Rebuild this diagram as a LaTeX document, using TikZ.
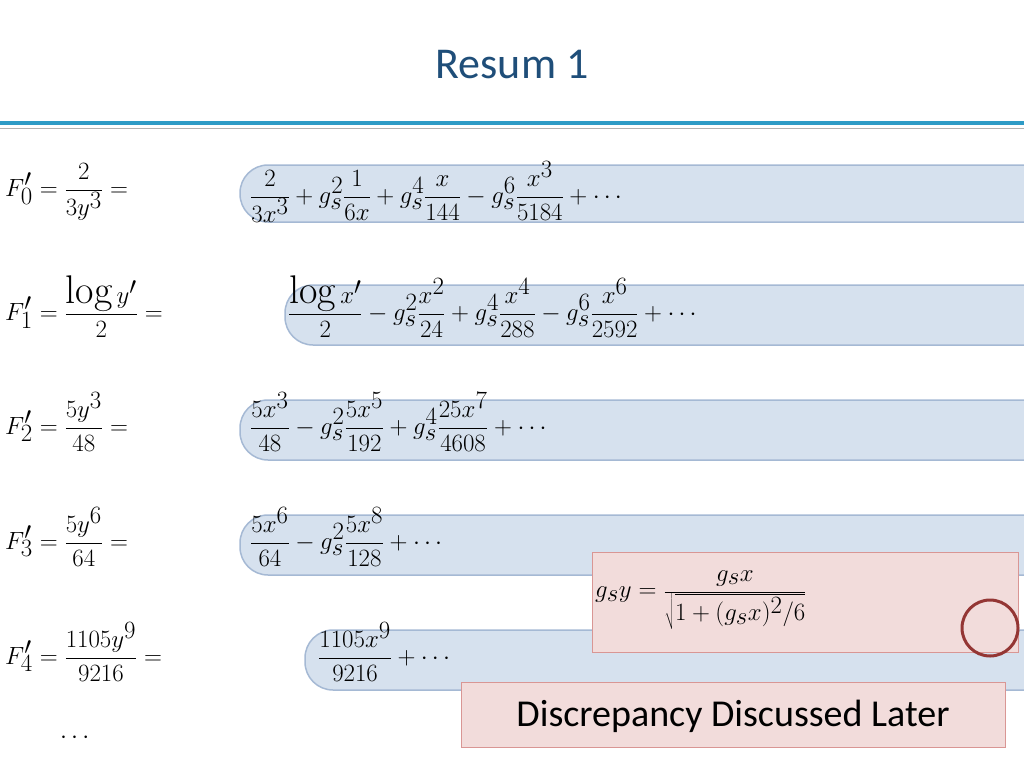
\documentclass[tikz,border=0pt]{standalone}
\usepackage{fontspec}
\newfontfamily\carlitofont{Carlito}
\begin{document}
\begin{tikzpicture}[x=1pt,y=-1pt,
  bar/.style={fill={rgb,255:red,214;green,225;blue,238}, draw={rgb,255:red,165;green,185;blue,212}, line width=1.5pt, rounded corners=28pt},
  pinkbox/.style={fill={rgb,255:red,242;green,220;blue,219}, draw={rgb,255:red,217;green,150;blue,148}, line width=1pt},
  eq/.style={font=\fontsize{40}{48}\selectfont, inner sep=0pt, anchor=west}]
\useasboundingbox (0,0) rectangle (1024,768);
\clip (0,0) rectangle (1024,768);
\node[font=\carlitofont\fontsize{44}{50}\selectfont, text={rgb,255:red,31;green,78;blue,121}] (title) at (512,65) {Resum 1};
\draw[line width=4pt, draw={rgb,255:red,46;green,155;blue,198}] (0,123) -- (1024,123);
\draw[line width=1pt, gray!60] (0,128) -- (1024,128);
% bars
\draw[bar] (240,165) rectangle (1100,222);
\draw[bar] (285,285) rectangle (1100,345);
\draw[bar] (240,400) rectangle (1100,460);
\draw[bar] (240,515) rectangle (1100,575);
\draw[bar] (305,630) rectangle (1100,690);
% rows
\node[eq] (l0) at (5,192) {$\displaystyle F_0'=\frac{2}{3y^3}=$};
\node[eq] (r0) at (250,192) {$\displaystyle \frac{2}{3x^3}+g_s^2\frac{1}{6x}+g_s^4\frac{x}{144}-g_s^6\frac{x^3}{5184}+\cdots$};
\node[eq] (l1) at (5,307) {$\displaystyle F_1'=\frac{\log y'}{2}=$};
\node[eq] (r1) at (288,307) {$\displaystyle \frac{\log x'}{2}-g_s^2\frac{x^2}{24}+g_s^4\frac{x^4}{288}-g_s^6\frac{x^6}{2592}+\cdots$};
\node[eq] (l2) at (5,422) {$\displaystyle F_2'=\frac{5y^3}{48}=$};
\node[eq] (r2) at (250,422) {$\displaystyle \frac{5x^3}{48}-g_s^2\frac{5x^5}{192}+g_s^4\frac{25x^7}{4608}+\cdots$};
\node[eq] (l3) at (5,537) {$\displaystyle F_3'=\frac{5y^6}{64}=$};
\node[eq] (r3) at (250,537) {$\displaystyle \frac{5x^6}{64}-g_s^2\frac{5x^8}{128}+\cdots$};
\node[eq] (l4) at (5,652) {$\displaystyle F_4'=\frac{1105y^9}{9216}=$};
\node[eq] (r4) at (318,652) {$\displaystyle \frac{1105x^9}{9216}+\cdots$};
\node[eq] (dots) at (60,738) {$\cdots$};
% pink boxes
\draw[pinkbox] (592,552) rectangle (1018,652);
\node[eq, font=\fontsize{36}{44}\selectfont] (gs) at (595,600) {$\displaystyle g_sy=\frac{g_sx}{\sqrt{1+(g_sx)^2/6}}$};
\draw[pinkbox] (461,682) rectangle (1005,747);
\node[font=\carlitofont\fontsize{38}{44}\selectfont] (disc) at (733,716) {Discrepancy Discussed Later};
\draw[line width=3pt, draw={rgb,255:red,148;green,54;blue,52}] (990,628) circle (28);
\end{tikzpicture}
\end{document}
